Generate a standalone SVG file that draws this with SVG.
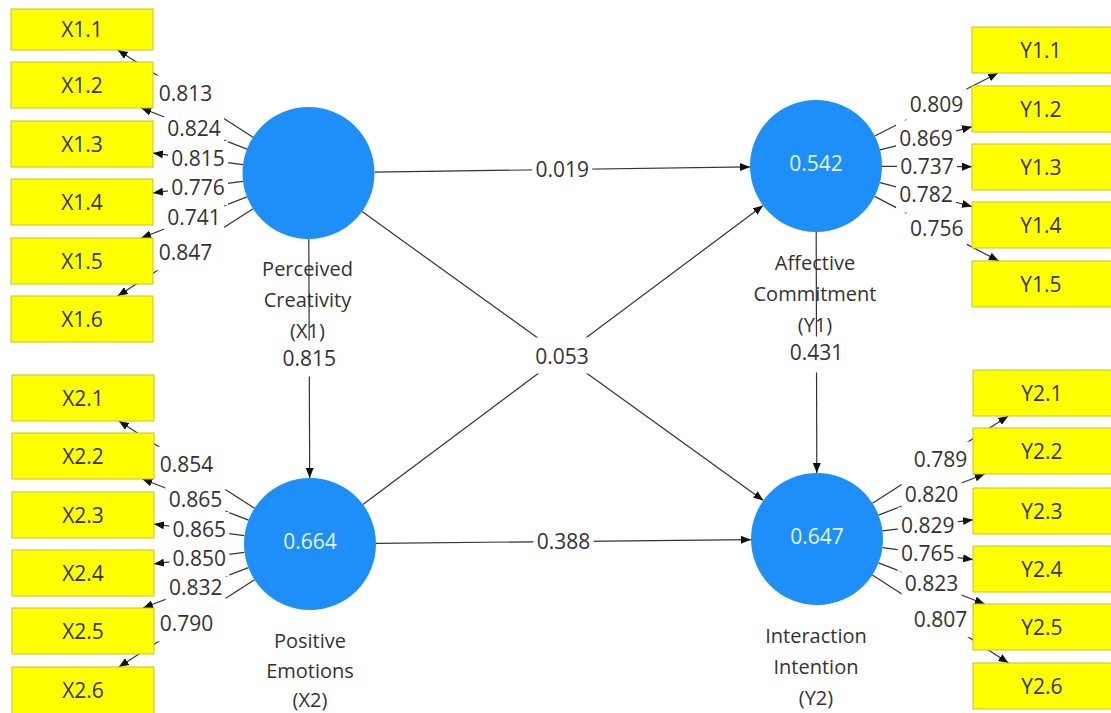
<svg xmlns="http://www.w3.org/2000/svg" width="1111" height="713" viewBox="0 0 1111 713">
<style>
.ln{stroke:#333;stroke-width:1.2;fill:none;marker-end:url(#arr)}
.bg{fill:#fff}
.num{font-family:"Open Sans","Liberation Sans",sans-serif;font-size:21px;fill:#333;text-anchor:middle}
.name{font-family:"Open Sans","Liberation Sans",sans-serif;font-size:20px;fill:#333;text-anchor:middle}
.r2{font-family:"Open Sans","Liberation Sans",sans-serif;font-size:21px;fill:#e6f6ff;text-anchor:middle}
.lv{fill:#1e8ff8}
.box{fill:#ffff00;stroke:#c4c42a;stroke-width:1}
.bt{font-family:"Open Sans","Liberation Sans",sans-serif;font-size:21px;fill:#333;text-anchor:middle}
</style>
<defs>
<marker id="arr" markerWidth="10" markerHeight="8" refX="10" refY="4" orient="auto" markerUnits="userSpaceOnUse"><path d="M0,0 L10,4 L0,8 Z" fill="#111"/></marker>
</defs>
<rect width="1111" height="713" fill="#fff"/>
<g id="connectors">
<line class="ln" x1="374.5" y1="172.1" x2="750" y2="166.9"/>
<line class="ln" x1="376" y1="543.3" x2="751" y2="539.7"/>
<line class="ln" x1="362.1" y1="211.6" x2="763.4" y2="500.4"/>
<line class="ln" x1="362.9" y1="504.5" x2="763.1" y2="205.5"/>
<line class="ln" x1="308.8" y1="239" x2="309.7" y2="478"/>
<line class="ln" x1="816.2" y1="232" x2="816.8" y2="473"/>
<line class="ln" x1="253" y1="137.2" x2="117.7" y2="50"/>
<line class="ln" x1="247" y1="149.1" x2="141.2" y2="108"/>
<line class="ln" x1="243" y1="164.6" x2="153" y2="153.1"/>
<line class="ln" x1="243" y1="181.4" x2="153" y2="192.9"/>
<line class="ln" x1="247" y1="196.9" x2="141.2" y2="238"/>
<line class="ln" x1="253" y1="208.8" x2="117.7" y2="296"/>
<line class="ln" x1="254.5" y1="508.3" x2="118.8" y2="421"/>
<line class="ln" x1="248.5" y1="520.1" x2="142.3" y2="479"/>
<line class="ln" x1="244.5" y1="535.6" x2="154" y2="524.1"/>
<line class="ln" x1="244.5" y1="552.4" x2="154" y2="563.9"/>
<line class="ln" x1="248.4" y1="567.6" x2="143" y2="608"/>
<line class="ln" x1="254.5" y1="579.7" x2="118.8" y2="667"/>
<line class="ln" x1="874.8" y1="136" x2="998" y2="73"/>
<line class="ln" x1="880" y1="149.9" x2="972" y2="126.8"/>
<line class="ln" x1="882" y1="166.3" x2="972" y2="166.7"/>
<line class="ln" x1="879.9" y1="182.6" x2="972" y2="206.5"/>
<line class="ln" x1="874.6" y1="196.4" x2="998.8" y2="261"/>
<line class="ln" x1="872.5" y1="503.3" x2="1008.2" y2="416"/>
<line class="ln" x1="878.5" y1="515.1" x2="984.7" y2="474"/>
<line class="ln" x1="882.5" y1="530.9" x2="973" y2="519.8"/>
<line class="ln" x1="882.4" y1="547.6" x2="973" y2="559.6"/>
<line class="ln" x1="878.5" y1="562.9" x2="984.7" y2="604"/>
<line class="ln" x1="872.4" y1="574.9" x2="1008.5" y2="663"/>
<g class="bg">
<rect x="532.2" y="151.5" width="60" height="36"/>
<rect x="533.5" y="523.5" width="60" height="36"/>
<rect x="532.8" y="337.5" width="60" height="36"/>
<rect x="279.2" y="340.5" width="60" height="36"/>
<rect x="786.5" y="336.5" width="60" height="36"/>
<rect x="155.4" y="75.6" width="60" height="36"/>
<rect x="164.1" y="110.6" width="60" height="36"/>
<rect x="168" y="140.9" width="60" height="36"/>
<rect x="168" y="169.2" width="60" height="36"/>
<rect x="164.1" y="199.5" width="60" height="36"/>
<rect x="155.4" y="234.4" width="60" height="36"/>
<rect x="156.6" y="446.7" width="60" height="36"/>
<rect x="165.4" y="481.6" width="60" height="36"/>
<rect x="169.3" y="511.9" width="60" height="36"/>
<rect x="169.3" y="540.1" width="60" height="36"/>
<rect x="165.7" y="569.8" width="60" height="36"/>
<rect x="156.6" y="605.4" width="60" height="36"/>
<rect x="906.4" y="86.5" width="60" height="36"/>
<rect x="896" y="120.3" width="60" height="36"/>
<rect x="897" y="148.5" width="60" height="36"/>
<rect x="896" y="176.6" width="60" height="36"/>
<rect x="906.7" y="210.7" width="60" height="36"/>
<rect x="910.4" y="441.7" width="60" height="36"/>
<rect x="901.6" y="476.6" width="60" height="36"/>
<rect x="897.8" y="507.4" width="60" height="36"/>
<rect x="897.7" y="535.6" width="60" height="36"/>
<rect x="901.6" y="565.5" width="60" height="36"/>
<rect x="910.4" y="601" width="60" height="36"/>
</g>
<text class="num" x="562.2" y="177">0.019</text>
<text class="num" x="563.5" y="549">0.388</text>
<text class="num" x="562" y="363.5">0.053</text>
<text class="num" x="309.2" y="366">0.815</text>
<text class="num" x="816.5" y="360">0.431</text>
<text class="num" x="185.4" y="101.1">0.813</text>
<text class="num" x="194.1" y="136.1">0.824</text>
<text class="num" x="198" y="166.4">0.815</text>
<text class="num" x="198" y="194.7">0.776</text>
<text class="num" x="194.1" y="225">0.741</text>
<text class="num" x="185.4" y="259.9">0.847</text>
<text class="num" x="186.6" y="472.2">0.854</text>
<text class="num" x="195.4" y="507.1">0.865</text>
<text class="num" x="199.3" y="537.4">0.865</text>
<text class="num" x="199.3" y="565.6">0.850</text>
<text class="num" x="195.7" y="595.3">0.832</text>
<text class="num" x="186.6" y="630.9">0.790</text>
<text class="num" x="936.4" y="112">0.809</text>
<text class="num" x="926" y="145.8">0.869</text>
<text class="num" x="927" y="174">0.737</text>
<text class="num" x="926" y="202.1">0.782</text>
<text class="num" x="936.7" y="236.2">0.756</text>
<text class="num" x="940.4" y="467.2">0.789</text>
<text class="num" x="931.6" y="502.1">0.820</text>
<text class="num" x="927.8" y="532.9">0.829</text>
<text class="num" x="927.7" y="561.1">0.765</text>
<text class="num" x="931.6" y="591">0.823</text>
<text class="num" x="940.4" y="626.5">0.807</text>
</g>
<g id="X1">
<circle class="lv" cx="308.5" cy="173" r="66"/>
<text class="name" x="307.5" y="276">Perceived</text>
<text class="name" x="307.5" y="307">Creativity</text>
<text class="name" x="307.5" y="338">(X1)</text>
</g>
<g id="X2">
<circle class="lv" cx="310" cy="544" r="66"/>
<text class="r2" x="310" y="548.5">0.664</text>
<text class="name" x="310" y="648">Positive</text>
<text class="name" x="310" y="678">Emotions</text>
<text class="name" x="310" y="707">(X2)</text>
</g>
<g id="Y1">
<circle class="lv" cx="816" cy="166" r="66"/>
<text class="r2" x="816" y="170.5">0.542</text>
<text class="name" x="815" y="270">Affective</text>
<text class="name" x="815" y="301">Commitment</text>
<text class="name" x="815" y="332">(Y1)</text>
</g>
<g id="Y2">
<circle class="lv" cx="817" cy="539" r="66"/>
<text class="r2" x="817" y="543.5">0.647</text>
<text class="name" x="816" y="643">Interaction</text>
<text class="name" x="816" y="674">Intention</text>
<text class="name" x="816" y="705">(Y2)</text>
</g>
<g id="X1.1"><rect class="box" x="11" y="9" width="142" height="41"/><text class="bt" x="82" y="37">X1.1</text></g>
<g id="X1.2"><rect class="box" x="11" y="62" width="142" height="46"/><text class="bt" x="82" y="92.5">X1.2</text></g>
<g id="X1.3"><rect class="box" x="11" y="121" width="142" height="46"/><text class="bt" x="82" y="151.5">X1.3</text></g>
<g id="X1.4"><rect class="box" x="11" y="179" width="142" height="46"/><text class="bt" x="82" y="209.5">X1.4</text></g>
<g id="X1.5"><rect class="box" x="11" y="238" width="142" height="46"/><text class="bt" x="82" y="268.5">X1.5</text></g>
<g id="X1.6"><rect class="box" x="11" y="296" width="142" height="46"/><text class="bt" x="82" y="326.5">X1.6</text></g>
<g id="X2.1"><rect class="box" x="12" y="375" width="142" height="46"/><text class="bt" x="83" y="405.5">X2.1</text></g>
<g id="X2.2"><rect class="box" x="12" y="433" width="142" height="46"/><text class="bt" x="83" y="463.5">X2.2</text></g>
<g id="X2.3"><rect class="box" x="12" y="492" width="142" height="46"/><text class="bt" x="83" y="522.5">X2.3</text></g>
<g id="X2.4"><rect class="box" x="12" y="550" width="142" height="46"/><text class="bt" x="83" y="580.5">X2.4</text></g>
<g id="X2.5"><rect class="box" x="12" y="608" width="142" height="46"/><text class="bt" x="83" y="638.5">X2.5</text></g>
<g id="X2.6"><rect class="box" x="12" y="667" width="142" height="50"/><text class="bt" x="83" y="697.5">X2.6</text></g>
<g id="Y1.1"><rect class="box" x="972" y="27" width="142" height="46"/><text class="bt" x="1041" y="57.5">Y1.1</text></g>
<g id="Y1.2"><rect class="box" x="972" y="86" width="142" height="46"/><text class="bt" x="1041" y="116.5">Y1.2</text></g>
<g id="Y1.3"><rect class="box" x="972" y="144" width="142" height="46"/><text class="bt" x="1041" y="174.5">Y1.3</text></g>
<g id="Y1.4"><rect class="box" x="972" y="202" width="142" height="46"/><text class="bt" x="1041" y="232.5">Y1.4</text></g>
<g id="Y1.5"><rect class="box" x="972" y="261" width="142" height="46"/><text class="bt" x="1041" y="291.5">Y1.5</text></g>
<g id="Y2.1"><rect class="box" x="973" y="370" width="142" height="46"/><text class="bt" x="1042" y="400.5">Y2.1</text></g>
<g id="Y2.2"><rect class="box" x="973" y="428" width="142" height="46"/><text class="bt" x="1042" y="458.5">Y2.2</text></g>
<g id="Y2.3"><rect class="box" x="973" y="488" width="142" height="46"/><text class="bt" x="1042" y="518.5">Y2.3</text></g>
<g id="Y2.4"><rect class="box" x="973" y="546" width="142" height="46"/><text class="bt" x="1042" y="576.5">Y2.4</text></g>
<g id="Y2.5"><rect class="box" x="973" y="604" width="142" height="46"/><text class="bt" x="1042" y="634.5">Y2.5</text></g>
<g id="Y2.6"><rect class="box" x="973" y="663" width="142" height="46"/><text class="bt" x="1042" y="693.5">Y2.6</text></g>
</svg>
